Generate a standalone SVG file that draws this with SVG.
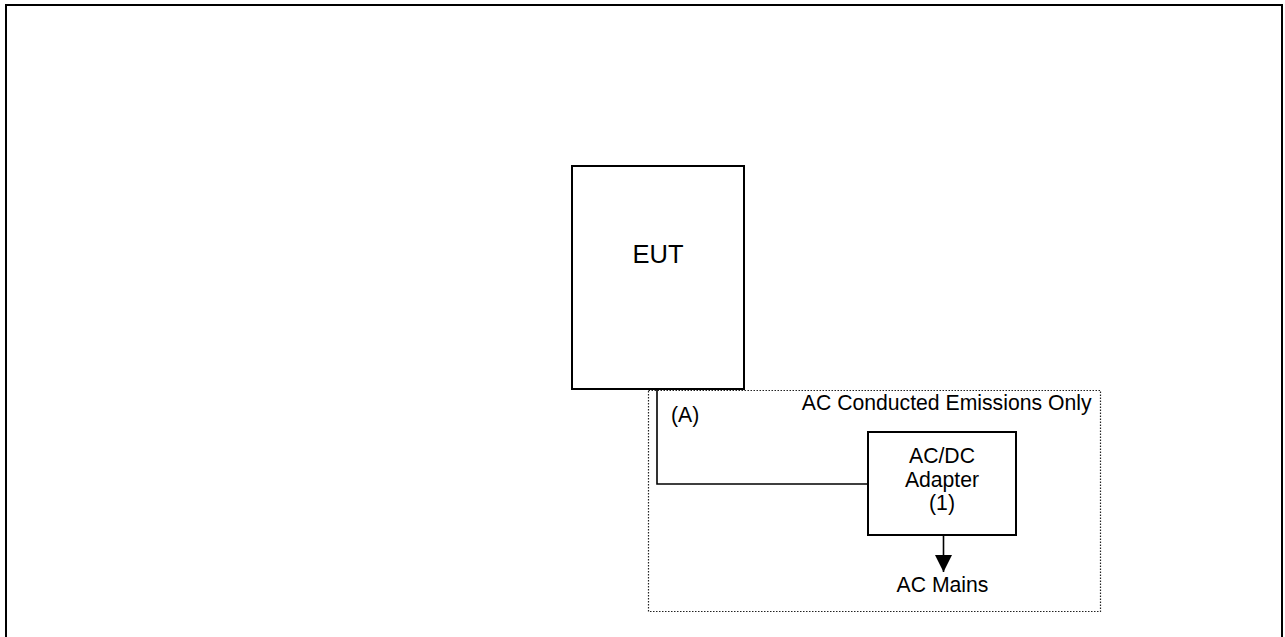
<svg xmlns="http://www.w3.org/2000/svg" width="1285" height="637" viewBox="0 0 1285 637">
<defs>
<style>
.box{fill:#fff;stroke:#000;stroke-width:2}
.wire{fill:none;stroke:#000;stroke-width:1.6}
.lbl{font-family:"Liberation Sans",Arial,sans-serif;font-size:21.2px;fill:#000}
.dot{fill:none;stroke:#222;stroke-width:1.2;stroke-dasharray:1.5 1.5}
</style>
<marker id="arr" viewBox="0 0 10 10" refX="10" refY="5" markerWidth="17" markerHeight="17" markerUnits="userSpaceOnUse" orient="auto">
<path d="M0,0 L10,5 L0,10 Z" fill="#000"/>
</marker>
</defs>
<rect width="1285" height="637" fill="#fff"/>
<path d="M6,640 V5 H1282 V640" fill="none" stroke="#000" stroke-width="2"/>
<g id="region">
<rect class="dot" x="648.5" y="390.5" width="452" height="221"/>
<text class="lbl" x="1091.5" y="410" text-anchor="end">AC Conducted Emissions Only</text>
</g>
<g id="connectors">
<path class="wire" d="M657,389 V484 H868"/>
<text class="lbl" x="671" y="422">(A)</text>
<path class="wire" d="M943.5,535 V572" marker-end="url(#arr)"/>
</g>
<g id="eut">
<rect class="box" x="572" y="166" width="172" height="223"/>
<text class="lbl" x="658" y="263" text-anchor="middle" style="font-size:25.5px">EUT</text>
</g>
<g id="adapter">
<rect class="box" x="868" y="432" width="148" height="103"/>
<text class="lbl" x="942" y="463" text-anchor="middle">AC/DC</text>
<text class="lbl" x="942" y="487" text-anchor="middle">Adapter</text>
<text class="lbl" x="942" y="510" text-anchor="middle">(1)</text>
</g>
<g id="acmains">
<text class="lbl" x="942.5" y="592" text-anchor="middle">AC Mains</text>
</g>
</svg>
